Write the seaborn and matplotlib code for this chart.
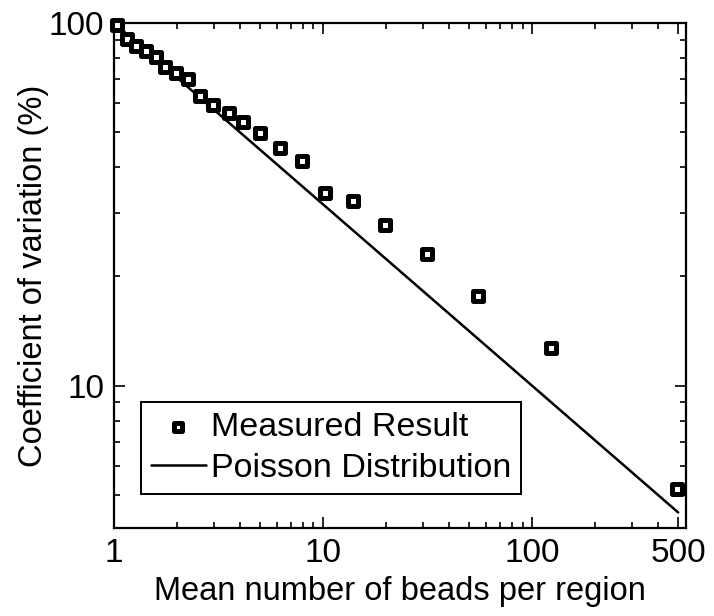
import numpy as np
import pandas as pd
import matplotlib
matplotlib.use("Agg")
import matplotlib.pyplot as plt
import seaborn as sns
from matplotlib.ticker import FixedLocator, NullFormatter, FixedFormatter

# measured coefficient of variation vs mean bead count
mean_beads = [1.03, 1.15, 1.27, 1.42, 1.58, 1.75, 1.97, 2.25, 2.57, 2.96, 3.53,
              4.16, 5.0, 6.2, 7.9, 10.2, 13.9, 19.7, 31.3, 55.3, 123, 495]
cv_measured = [99.0, 90.4, 86.5, 83.8, 80.6, 75.6, 72.9, 70.1, 63.0, 59.5, 56.5,
               53.4, 49.8, 45.3, 41.7, 34.0, 32.3, 27.8, 23.0, 17.7, 12.7, 5.2]

# Poisson reference line (straight on log-log)
poisson_x = [1, 500]
poisson_y = [100, 4.47]

x_ticks = [1, 10, 100, 500]
x_minor = [2, 3, 4, 5, 6, 7, 8, 9, 20, 30, 40, 50, 60, 70, 80, 90, 200, 300, 400]
y_ticks = [10, 100]
y_minor = [5, 6, 7, 8, 9, 20, 30, 40, 50, 60, 70, 80, 90]

sns.set_style("ticks")
plt.rcParams['font.family'] = ['Liberation Sans', 'DejaVu Sans']
plt.rcParams['text.color'] = 'black'
plt.rcParams['axes.labelcolor'] = 'black'
plt.rcParams['xtick.color'] = 'black'
plt.rcParams['ytick.color'] = 'black'

df_meas = pd.DataFrame({"x": mean_beads, "cv": cv_measured})
df_pois = pd.DataFrame({"x": poisson_x, "cv": poisson_y})

fig = plt.figure(figsize=(7.14, 6.16), dpi=100)
ax = fig.add_axes([114 / 714, 88 / 616, 572 / 714, 505 / 616])
ax.set_xscale("log")
ax.set_yscale("log")

sns.lineplot(data=df_pois, x="x", y="cv", color="black", linewidth=1.8, ax=ax,
             label="Poisson Distribution", zorder=2)
sns.scatterplot(data=df_meas, x="x", y="cv", marker="s", s=52, facecolor="white",
                edgecolor="black", linewidth=3.6, ax=ax, label="Measured Result",
                zorder=3, clip_on=False)

ax.set_xlim(1, 545)
ax.set_ylim(4.05, 100)

ax.xaxis.set_major_locator(FixedLocator(x_ticks))
ax.xaxis.set_major_formatter(FixedFormatter([str(t) for t in x_ticks]))
ax.xaxis.set_minor_locator(FixedLocator(x_minor))
ax.xaxis.set_minor_formatter(NullFormatter())
ax.yaxis.set_major_locator(FixedLocator(y_ticks))
ax.yaxis.set_major_formatter(FixedFormatter([str(t) for t in y_ticks]))
ax.yaxis.set_minor_locator(FixedLocator(y_minor))
ax.yaxis.set_minor_formatter(NullFormatter())

ax.tick_params(which="both", direction="in", top=True, right=True, color="black",
               width=1.2, labelsize=24, pad=7)
ax.tick_params(which="major", length=8)
ax.tick_params(which="minor", length=4.5)
for sp in ax.spines.values():
    sp.set_linewidth(1.6)
    sp.set_color("black")

ax.set_xlabel("Mean number of beads per region", fontsize=23.5, labelpad=5)
ax.set_ylabel("Coefficient of variation (%)", fontsize=23.5, labelpad=0)

handles, labels = ax.get_legend_handles_labels()
order = [labels.index("Measured Result"), labels.index("Poisson Distribution")]
leg = ax.legend([handles[i] for i in order], [labels[i] for i in order],
                loc="lower left", bbox_to_anchor=(0.047, 0.067), fontsize=24.5,
                frameon=True, fancybox=False, framealpha=1, edgecolor="black",
                handlelength=1.6, handletextpad=0.15, borderpad=0.3,
                labelspacing=0.3, borderaxespad=0)
leg.get_frame().set_linewidth(1.4)
leg.legend_handles[0].set_sizes([30])

fig.savefig("out.png", dpi=100)
